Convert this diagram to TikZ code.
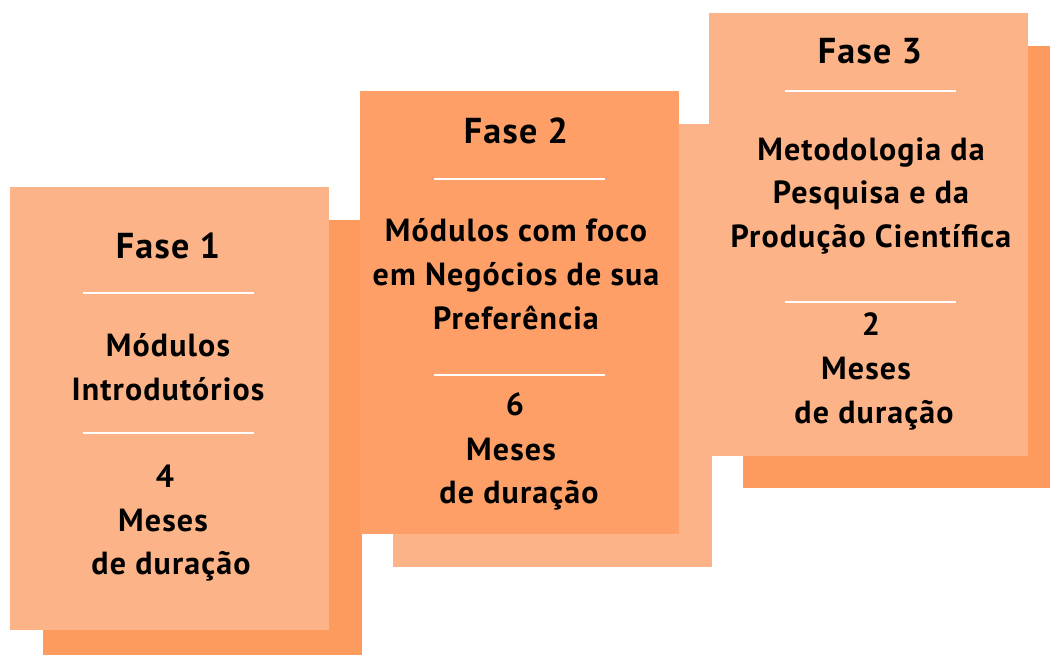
\documentclass[tikz,border=0pt]{standalone}
\usepackage{fontspec}
\setmainfont{PT Sans}[LetterSpace=3.5]
\definecolor{cardlight}{HTML}{FCB387}
\definecolor{carddark}{HTML}{FD9A5E}
\definecolor{cardmid}{HTML}{FD9F66}
\tikzset{
  txt/.style={anchor=base, text=black, inner sep=0pt, font=\bfseries\fontsize{32}{36}\selectfont},
  ttl/.style={anchor=base, text=black, inner sep=0pt, font=\bfseries\fontsize{36}{40}\selectfont},
  sep/.style={draw=white, line width=1.6pt},
}
\begin{document}
\begin{tikzpicture}[x=1pt,y=-1pt]
\useasboundingbox (0,0) rectangle (1050,655);
% shadows
\fill[carddark] (43,220) rectangle (362,655);
\fill[cardlight] (393,124) rectangle (712,567);
\fill[carddark] (743,46) rectangle (1050,488);
% fronts
\fill[cardlight] (10,187) rectangle (329,630);
\fill[cardmid] (360,91) rectangle (679,534);
\fill[cardlight] (709,13) rectangle (1028,456);
% card 1
\node[ttl] (t1) at (168,259) {Fase 1};
\draw[sep] (83,293) -- (254,293);
\node[txt] (a1) at (168,356) {Módulos};
\node[txt] (a2) at (168,400) {Introdutórios};
\draw[sep] (83,433) -- (254,433);
\node[txt] (b1) at (165,487) {4};
\node[txt] (b2) at (163,531) {Meses};
\node[txt] (b3) at (171,574) {de duração};
% card 2
\node[ttl] (t2) at (516,144) {Fase 2};
\draw[sep] (434,179) -- (605,179);
\node[txt] (c1) at (516,242) {Módulos com foco};
\node[txt] (c2) at (516,285) {em Negócios de sua};
\node[txt] (c3) at (516,329) {Preferência};
\draw[sep] (434,375) -- (605,375);
\node[txt] (d1) at (515,415) {6};
\node[txt] (d2) at (511,460) {Meses};
\node[txt] (d3) at (519,503) {de duração};
% card 3
\node[ttl] (t3) at (870,64) {Fase 3};
\draw[sep] (785,91) -- (956,91);
\node[txt] (e1) at (871,161) {Metodologia da};
\node[txt] (e2) at (871,204) {Pesquisa e da};
\node[txt] (e3) at (871,248) {Produção Científica};
\draw[sep] (785,302) -- (956,302);
\node[txt] (f1) at (871,335) {2};
\node[txt] (f2) at (866,379) {Meses};
\node[txt] (f3) at (874,423) {de duração};
\end{tikzpicture}
\end{document}
